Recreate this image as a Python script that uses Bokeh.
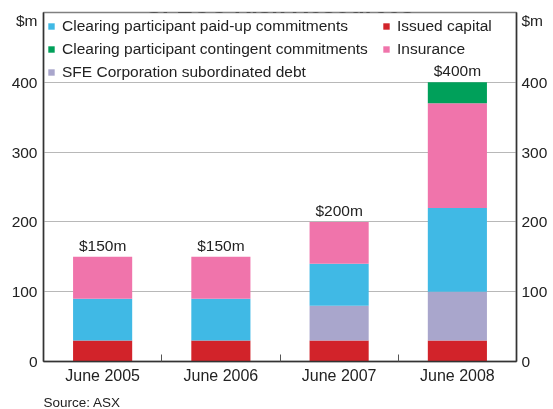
from bokeh.plotting import figure
from bokeh.models import (FixedTicker, LinearAxis, Legend, LegendItem, Label, Title,
                          ColumnDataSource, Range1d)
from bokeh.core.properties import value
from bokeh.embed import file_html
from bokeh.resources import INLINE

# ---- data ----
categories = ["June 2005", "June 2006", "June 2007", "June 2008"]
issued_capital = [30, 30, 30, 30]
sfe_debt = [0, 0, 50, 70]
paid_up = [60, 60, 60, 120]
insurance = [60, 60, 60, 150]
contingent = [0, 0, 0, 30]
total_labels = ["$150m", "$150m", "$200m", "$400m"]
y_ticks = [0, 100, 200, 300, 400]
unit_label = "$m"
title_text = "SFECC Risk Resources"
source_text = "Source: ASX"

series_names = ["Issued capital", "SFE Corporation subordinated debt",
                "Clearing participant paid-up commitments", "Insurance",
                "Clearing participant contingent commitments"]
series_colors = ["#d2232a", "#a9a6cc", "#40b9e5", "#f074ab", "#00a05a"]

FONT = "Liberation Sans"
TXT = "#222222"

x = [i + 0.5 for i in range(len(categories))]
totals = [sum(v) for v in zip(issued_capital, sfe_debt, paid_up, insurance, contingent)]
keys = ["issued", "sfe", "paid", "ins", "cont"]
src = ColumnDataSource(dict(x=x, issued=issued_capital, sfe=sfe_debt, paid=paid_up,
                            ins=insurance, cont=contingent))

p = figure(frame_width=473, frame_height=349,
           x_range=Range1d(0, len(categories)), y_range=Range1d(0, 500),
           output_backend="svg", toolbar_location=None,
           min_border_left=34, min_border_right=10, min_border_top=24, min_border_bottom=57)
p.styles = {"position": "fixed", "top": "-12px", "left": "8px"}
p.background_fill_color = "white"
p.border_fill_color = "white"
p.outline_line_color = "#808080"
p.outline_line_width = 1.5

rs = p.vbar_stack(keys, x="x", width=0.5, source=src, fill_color=series_colors, line_color=None)
r_issued, r_sfe, r_paid, r_ins, r_cont = rs

# total labels
p.text(x=x, y=totals, text=total_labels, text_align="center", text_baseline="bottom",
       y_offset=-3, text_font=value(FONT), text_font_size="15.5px", text_color=TXT)

# ---- axes ----
unit_pos = 488
yt = FixedTicker(ticks=y_ticks + [unit_pos])
overrides = {unit_pos: unit_label}

def style_y(ax):
    ax.ticker = yt
    ax.major_label_overrides = overrides
    ax.major_tick_line_color = None
    ax.major_tick_out = 0
    ax.major_tick_in = 0
    ax.minor_tick_line_color = None
    ax.minor_tick_out = 0
    ax.minor_tick_in = 0
    ax.axis_line_color = "#333333"
    ax.axis_line_width = 1.5
    ax.major_label_text_font = FONT
    ax.major_label_text_font_size = "15.5px"
    ax.major_label_text_color = TXT
    ax.major_label_standoff = 6

style_y(p.yaxis[0])
ax_r = LinearAxis()
style_y(ax_r)
ax_r.major_label_standoff = 5
p.add_layout(ax_r, "right")

xa = p.xaxis[0]
xa.ticker = FixedTicker(ticks=x, minor_ticks=list(range(1, len(categories))))
xa.major_label_overrides = {xv: c for xv, c in zip(x, categories)}
xa.major_tick_line_color = None
xa.major_tick_out = 0
xa.major_tick_in = 0
xa.minor_tick_line_color = "#555555"
xa.minor_tick_in = 7
xa.minor_tick_out = 0
xa.axis_line_color = "#333333"
xa.axis_line_width = 1.5
xa.major_label_text_font = FONT
xa.major_label_text_font_size = "16px"
xa.major_label_text_color = TXT
xa.major_label_standoff = 5

p.xgrid.visible = False
p.ygrid.ticker = FixedTicker(ticks=y_ticks[1:])
p.ygrid.grid_line_color = "#b8b8b8"
p.ygrid.grid_line_width = 1

# ---- legends ----
def make_legend(items, loc):
    lg = Legend(items=items, location=loc)
    lg.label_text_font = FONT
    lg.label_text_font_size = "15.5px"
    lg.label_text_color = TXT
    lg.glyph_width = 8
    lg.glyph_height = 8
    lg.label_standoff = 7
    lg.label_height = 20
    lg.spacing = 3
    lg.padding = 4
    lg.margin = 0
    lg.border_line_color = None
    lg.background_fill_alpha = 0
    return lg

leg1 = make_legend([
    LegendItem(label=series_names[2], renderers=[r_paid]),
    LegendItem(label=series_names[4], renderers=[r_cont]),
    LegendItem(label=series_names[1], renderers=[r_sfe]),
], (4, 279))
leg2 = make_legend([
    LegendItem(label=series_names[0], renderers=[r_issued]),
    LegendItem(label=series_names[3], renderers=[r_ins]),
], (339, 302))
p.add_layout(leg1)
p.add_layout(leg2)

# ---- title & source ----
p.add_layout(Label(x=236.5, y=357, x_units="screen", y_units="screen", text=title_text,
                   text_align="center", text_baseline="alphabetic", text_font=FONT,
                   text_font_style="bold", text_font_size="24px", text_color=TXT))
src_title = Title(text=source_text, align="left", text_font=FONT, text_font_style="normal",
                  text_font_size="13.5px", text_color=TXT, standoff=12, offset=0)
p.add_layout(src_title, "below")

open("out.html", "w").write(file_html(p, INLINE))
